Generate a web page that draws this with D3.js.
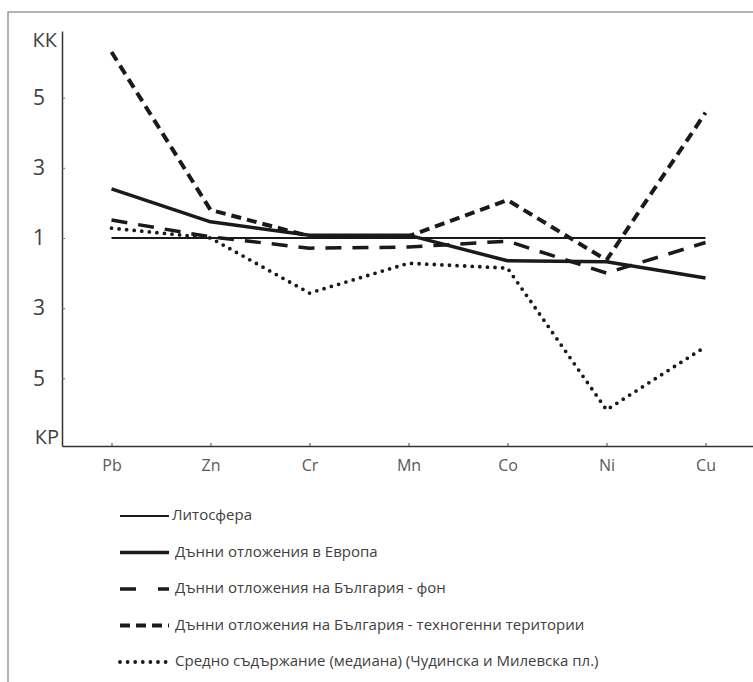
<!DOCTYPE html>
<html>
<head>
<meta charset="utf-8">
<script src="https://cdn.jsdelivr.net/npm/d3@7"></script>
<style>
  body { margin: 0; background: #fff; }
  text { font-family: "Open Sans", sans-serif; }
</style>
</head>
<body>
<div id="chart"></div>
<script>
const WIDTH = 753;
const HEIGHT = 682;

// elements on the x axis
const elements = ['Pb', 'Zn', 'Cr', 'Mn', 'Co', 'Ni', 'Cu'];

// coefficients: positive = КК (concentration), negative = КР (dispersion)
const lithosphere   = [1, 1, 1, 1, 1, 1, 1];
const europe        = [2.40, 1.46, 1.08, 1.08, -1.65, -1.68, -2.14];
const bgBackground  = [1.51, 1.03, -1.29, -1.26, -1.09, -2.00, -1.13];
const bgTechnogenic = [6.30, 1.80, 1.05, 1.05, 2.08, -1.63, 4.57];
const median        = [1.28, 1.00, -2.57, -1.72, -1.86, -5.90, -4.10];

const seriesNames = [
    'Литосфера',
    'Дънни отложения в Европа',
    'Дънни отложения на България - фон',
    'Дънни отложения на България - техногенни територии',
    'Средно съдържание (медиана) (Чудинска и Милевска пл.)'
];

const yTicks = [4, 2, 0, -2, -4];

// coefficient -> position on the symmetric axis (1 sits in the middle)
function toPos(v) {
    return v >= 0 ? v - 1 : v + 1;
}

const styles = [
    {width: 2,   dash: null,    cap: 'butt'},
    {width: 3.5, dash: null,    cap: 'butt'},
    {width: 3.5, dash: '16,11', cap: 'butt'},
    {width: 4,   dash: '10,6',  cap: 'butt'},
    {width: 3.8, dash: '0,7.6', cap: 'round'}
];
const series = [lithosphere, europe, bgBackground, bgTechnogenic, median];

const svg = d3.select('#chart').append('svg')
    .attr('width', WIDTH)
    .attr('height', HEIGHT);

svg.append('rect')
    .attr('width', WIDTH)
    .attr('height', HEIGHT)
    .attr('fill', '#fff');

// frame of the original figure
svg.append('rect')
    .attr('x', 8)
    .attr('y', 12)
    .attr('width', 800)
    .attr('height', 800)
    .attr('fill', 'none')
    .attr('stroke', '#9a9a9a')
    .attr('stroke-width', 1.5);

const x = d3.scalePoint()
    .domain(elements)
    .range([62, 755])
    .padding(0.5);

const y = d3.scaleLinear()
    .domain([-5.93, 5.9])
    .range([446, 31]);

// y axis
const yAxis = svg.append('g')
    .attr('transform', 'translate(62,0)')
    .call(d3.axisLeft(y)
        .tickValues(yTicks)
        .tickSizeInner(-3)
        .tickSizeOuter(0)
        .tickPadding(17)
        .tickFormat(d => Math.abs(d) + 1));
yAxis.select('.domain').attr('stroke', '#333').attr('stroke-width', 1.5);
yAxis.selectAll('.tick line').attr('stroke', '#666');
yAxis.selectAll('.tick text')
    .attr('font-size', 21)
    .attr('fill', '#404040')
    .attr('text-anchor', 'middle')
    .attr('x', -23);

svg.append('text')
    .attr('x', 57).attr('y', 42)
    .attr('text-anchor', 'end')
    .attr('dominant-baseline', 'middle')
    .attr('font-size', 20)
    .attr('fill', '#404040')
    .text('КК');
svg.append('text')
    .attr('x', 59).attr('y', 439)
    .attr('text-anchor', 'end')
    .attr('dominant-baseline', 'middle')
    .attr('font-size', 20)
    .attr('fill', '#404040')
    .text('КР');

// x axis
const xAxis = svg.append('g')
    .attr('transform', 'translate(0,446)')
    .call(d3.axisBottom(x)
        .tickSizeInner(-3)
        .tickSizeOuter(0)
        .tickPadding(14));
xAxis.select('.domain').attr('stroke', '#333').attr('stroke-width', 1.5);
xAxis.selectAll('.tick line').attr('stroke', '#444');
xAxis.selectAll('.tick text')
    .attr('font-size', 16)
    .attr('fill', '#595959');

// series lines
const line = d3.line()
    .x((d, i) => x(elements[i]))
    .y(d => y(toPos(d)));

series.forEach((values, k) => {
    svg.append('path')
        .attr('d', line(values))
        .attr('fill', 'none')
        .attr('stroke', '#1a1a1a')
        .attr('stroke-width', styles[k].width)
        .attr('stroke-dasharray', styles[k].dash)
        .attr('stroke-linecap', styles[k].cap)
        .attr('stroke-linejoin', 'round');
});

// legend
const legend = svg.append('g');
seriesNames.forEach((name, k) => {
    let ly = 516 + k * 36.5;
    legend.append('line')
        .attr('x1', 120).attr('x2', 169)
        .attr('y1', ly).attr('y2', ly)
        .attr('stroke', '#1a1a1a')
        .attr('stroke-width', styles[k].width)
        .attr('stroke-dasharray', k == 2 ? '16,22' : styles[k].dash)
        .attr('stroke-linecap', styles[k].cap);
    legend.append('text')
        .attr('x', k == 0 ? 172 : 175)
        .attr('y', ly)
        .attr('dominant-baseline', 'middle')
        .attr('font-size', 15)
        .attr('fill', '#404040')
        .text(name);
});
</script>
</body>
</html>
